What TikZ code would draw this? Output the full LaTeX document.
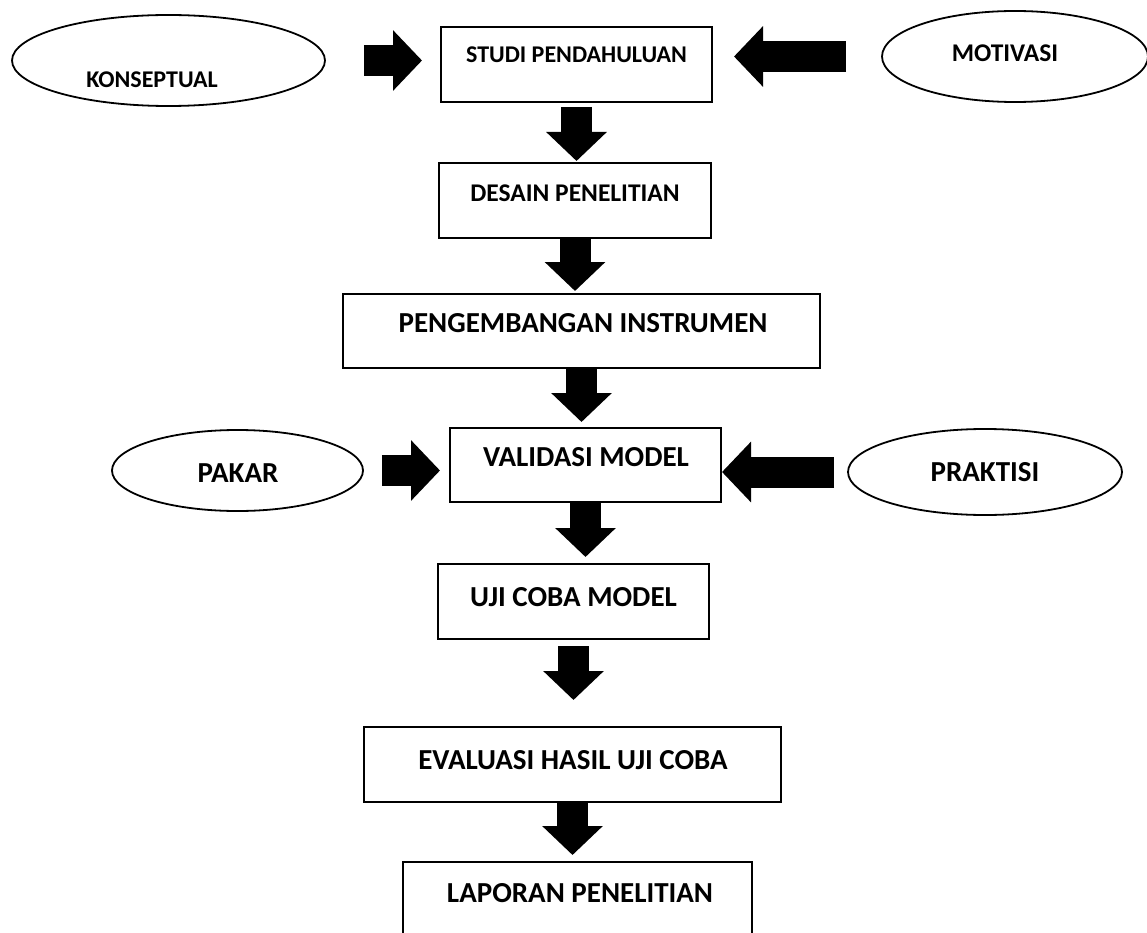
\documentclass[tikz,border=0pt]{standalone}
\usepackage{fontspec}
\setmainfont{Carlito}
\usetikzlibrary{shapes.geometric,arrows.meta,positioning}

\tikzset{
  box/.style={draw, line width=2pt, minimum height=75pt, inner sep=0pt},
  oval/.style={draw, ellipse, line width=1.8pt, inner sep=0pt},
  smalltxt/.style={inner sep=0pt, text depth=0pt, text height=15.2pt, font=\bfseries\fontsize{24}{28}\selectfont},
  midtxt/.style={inner sep=0pt, text depth=0pt, text height=16.1pt, font=\bfseries\fontsize{25.5}{30}\selectfont},
  bigtxt/.style={inner sep=0pt, text depth=0pt, text height=18.3pt, font=\bfseries\fontsize{29}{34}\selectfont},
  fat/.style={line width=31pt, -{Triangle[length=29pt, width=59pt]}}
}

\begin{document}
\begin{tikzpicture}[x=1pt, y=-1pt]
    \useasboundingbox (0,0) rectangle (1147,933);
    \clip (0,0) rectangle (1147,933);

    % main column
    \node[box, minimum width=271pt] (studi) at (576.5,64.5) {};
    \node[smalltxt] (studi-t) at (576.5,55) {STUDI PENDAHULUAN};
    \node[box, minimum width=272pt] (desain) at (575,200.5) {};
    \node[midtxt] (desain-t) at (575,193) {DESAIN PENELITIAN};
    \node[box, minimum width=477pt, minimum height=74pt] (kembang) at (581.5,331) {};
    \node[bigtxt] (kembang-t) at (583,323) {PENGEMBANGAN INSTRUMEN};
    \node[box, minimum width=271pt, minimum height=74pt] (valid) at (585.5,465) {};
    \node[bigtxt] (valid-t) at (586,457) {VALIDASI MODEL};
    \node[box, minimum width=271pt] (uji) at (573.5,601.5) {};
    \node[bigtxt] (uji-t) at (573.5,597) {UJI COBA MODEL};
    \node[box, minimum width=417pt] (eval) at (572.5,764.5) {};
    \node[bigtxt] (eval-t) at (573,760) {EVALUASI HASIL UJI COBA};
    \node[box, minimum width=349pt] (lapor) at (577.5,899.5) {};
    \node[bigtxt] (lapor-t) at (580,893) {LAPORAN PENELITIAN};

    % inputs
    \node[oval, minimum width=313pt, minimum height=91pt] (konsep) at (168.5,60.5) {};
    \node[smalltxt] (konsep-t) at (152,80) {KONSEPTUAL};
    \node[oval, minimum width=266pt, minimum height=91pt] (motiv) at (1015,56.5) {};
    \node[midtxt] (motiv-t) at (1005,53) {MOTIVASI};
    \node[oval, minimum width=251pt, minimum height=81pt] (pakar) at (237.5,470.5) {};
    \node[bigtxt] (pakar-t) at (238,473) {PAKAR};
    \node[oval, minimum width=274pt, minimum height=86pt] (prakt) at (985,472) {};
    \node[bigtxt] (prakt-t) at (985,472) {PRAKTISI};

    % flow
    \draw[fat, shorten <=4pt, shorten >=1pt] (studi.south) -- (studi.south |- desain.north);
    \draw[fat, shorten >=2pt] (desain.south) -- (desain.south |- kembang.north);
    \draw[fat, shorten >=5pt] (kembang.south) -- (kembang.south |- valid.north);
    \draw[fat, shorten >=6pt] (valid.south) -- (valid.south |- uji.north);
    \draw[fat, shorten <=6pt, shorten >=26pt] (uji.south) -- (uji.south |- eval.north);
    \draw[fat, shorten >=6pt] (eval.south) -- (eval.south |- lapor.north);

    \draw[fat, shorten <=38pt, shorten >=18pt] (konsep.east) -- (konsep.east -| studi.west);
    \draw[fat, shorten <=35pt, shorten >=21pt] (motiv.west) -- (motiv.west -| studi.east);
    \draw[fat, shorten <=18pt, shorten >=9pt] (pakar.east) -- (pakar.east -| valid.west);
    \draw[fat, shorten <=13pt] (prakt.west) -- (prakt.west -| valid.east);
\end{tikzpicture}
\end{document}
